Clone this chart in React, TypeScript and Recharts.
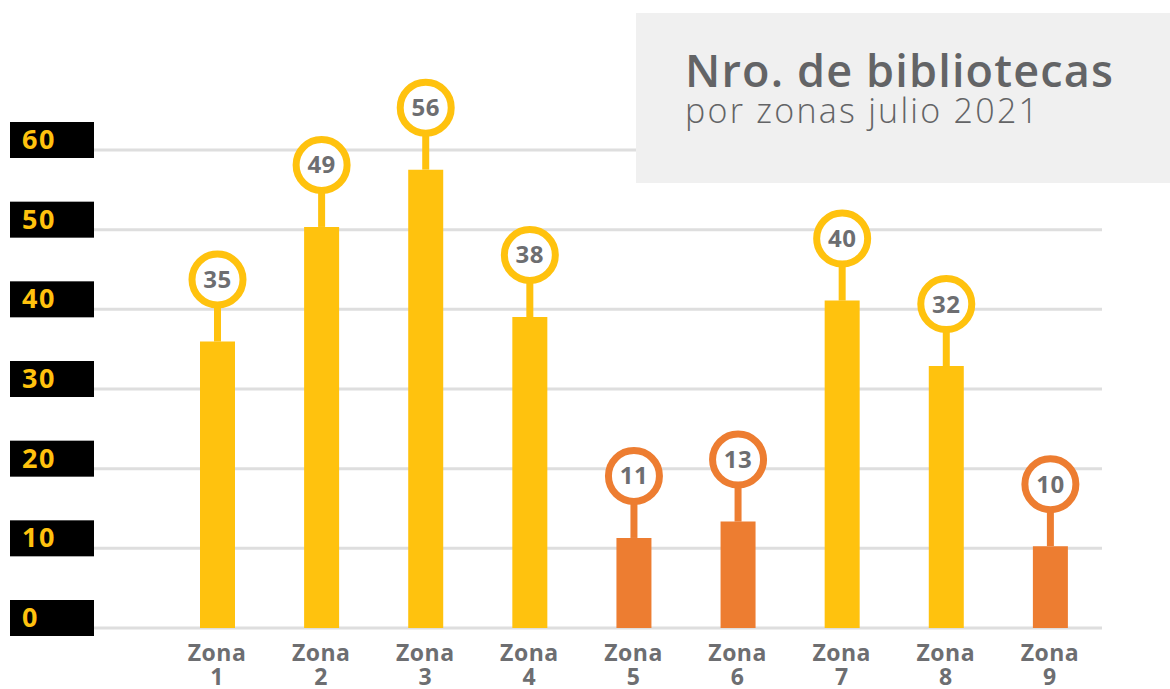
import { Bar, BarChart, CartesianGrid, Cell, LabelList, XAxis, YAxis } from "recharts"

const zones = ["Zona 1", "Zona 2", "Zona 3", "Zona 4", "Zona 5", "Zona 6", "Zona 7", "Zona 8", "Zona 9"]
const libraries = [35, 49, 56, 38, 11, 13, 40, 32, 10]
const yTicks = [0, 10, 20, 30, 40, 50, 60]
const title = "Nro. de bibliotecas"
const subtitle = "por zonas julio 2021"

const YELLOW = "#FFC20E"
const ORANGE = "#ED7D31"
const GREY_TEXT = "#6D6E71"
const FONT = "'Open Sans', 'Noto Sans', sans-serif"

// zones with few libraries are highlighted in orange
const barColor = (value: number) => (value < 20 ? ORANGE : YELLOW)

const data = zones.map((zone, i) => ({ zone, value: libraries[i] }))

function YTick({ y, payload }: any) {
  return (
    <g>
      <rect x={10} y={y - 28} width={84} height={36} fill="#000" />
      <text x={22} y={y - 1} fill={YELLOW} fontSize={27} fontWeight={700} letterSpacing={1.5} fontFamily={FONT}>
        {payload.value}
      </text>
    </g>
  )
}

function XTick({ x, y, payload }: any) {
  const [word, num] = String(payload.value).split(" ")
  return (
    <text textAnchor="middle" fill={GREY_TEXT} fontSize={23} fontWeight={700} letterSpacing={0.5} fontFamily={FONT}>
      <tspan x={x} y={y + 25}>{word}</tspan>
      <tspan x={x} y={y + 49}>{num}</tspan>
    </text>
  )
}

function Badge({ x, y, width, value }: any) {
  const cx = x + width / 2
  const cy = y - 62
  const color = barColor(value)
  return (
    <g>
      <line x1={cx} x2={cx} y1={y} y2={cy + 25} stroke={color} strokeWidth={7} />
      <circle cx={cx} cy={cy} r={25.5} fill="#fff" stroke={color} strokeWidth={7} />
      <text
        x={cx}
        y={cy + 8.5}
        textAnchor="middle"
        fill={GREY_TEXT}
        fontSize={24}
        fontWeight={700}
        letterSpacing={0.5}
        fontFamily={FONT}
      >
        {value}
      </text>
    </g>
  )
}

export default function App() {
  return (
    <div style={{ position: "absolute", left: 0, top: 0, width: 1170, height: 689, background: "#fff" }}>
      <BarChart width={1170} height={689} data={data} margin={{ top: 150, right: 68, bottom: 0, left: 0 }}>
        <CartesianGrid vertical={false} yAxisId="ticks" stroke="#DEDEDE" strokeWidth={3} />
        <XAxis
          dataKey="zone"
          height={61}
          axisLine={false}
          tickLine={false}
          interval={0}
          padding={{ left: 71, right: 0 }}
          tick={<XTick />}
        />
        {/* the printed scale: gridlines and the black tick boxes */}
        <YAxis
          yAxisId="ticks"
          width={94}
          type="number"
          domain={[0, 60]}
          allowDataOverflow
          ticks={yTicks}
          interval={0}
          axisLine={false}
          tickLine={false}
          tick={<YTick />}
        />
        {/* bars in the source run a little taller than the printed scale */}
        <YAxis yAxisId="bars" hide type="number" domain={[0, 58.4]} allowDataOverflow />
        <Bar yAxisId="bars" dataKey="value" barSize={35} isAnimationActive={false}>
          {data.map((d) => (
            <Cell key={d.zone} fill={barColor(d.value)} />
          ))}
          <LabelList dataKey="value" content={<Badge />} />
        </Bar>
      </BarChart>
      <svg style={{ position: "absolute", left: 636, top: 13 }} width={534} height={170}>
        <rect x={0} y={0} width={534} height={170} fill="#F0F0F0" />
        <text x={49} y={74} fill="#636466" fontSize={45} fontWeight={600} fontFamily={FONT} textLength={428}>
          {title}
        </text>
        <text x={49} y={110} fill="#636466" fontSize={34} fontWeight={300} fontFamily={FONT} textLength={353}>
          {subtitle}
        </text>
      </svg>
    </div>
  )
}
